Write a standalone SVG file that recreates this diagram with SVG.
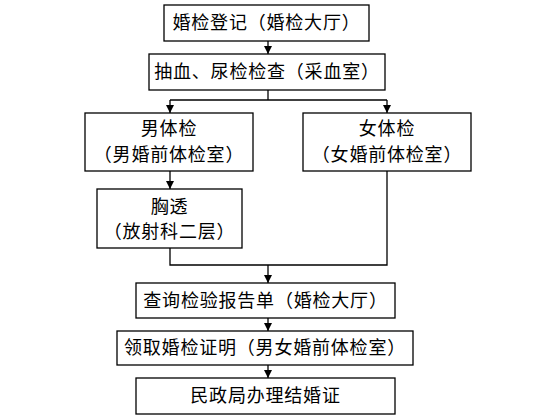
<svg xmlns="http://www.w3.org/2000/svg" width="536" height="420" viewBox="0 0 536 420">
<style>
.box{fill:#fff;stroke:#000;stroke-width:1.3}
.t{font-family:"Noto Sans CJK SC","Noto Sans CJK JP",sans-serif;font-size:18px;fill:#000;text-anchor:middle;letter-spacing:0.8px}
.c{fill:none;stroke:#000;stroke-width:1.3}
</style>
<defs>
<marker id="ah" viewBox="0 0 10 10" refX="10" refY="5" markerWidth="8" markerHeight="8" markerUnits="userSpaceOnUse" orient="auto">
<path d="M0,0 L10,5 L0,10 Z" fill="#000"/>
</marker>
</defs>
<rect width="536" height="420" fill="#fff"/>
<g id="connectors">
<line class="c" x1="268" y1="41" x2="268" y2="54" marker-end="url(#ah)"/>
<polyline class="c" points="268,90 268,100"/>
<polyline class="c" points="170,100 387,100"/>
<line class="c" x1="170" y1="100" x2="170" y2="113" marker-end="url(#ah)"/>
<line class="c" x1="387" y1="100" x2="387" y2="113" marker-end="url(#ah)"/>
<line class="c" x1="170" y1="171" x2="170" y2="189" marker-end="url(#ah)"/>
<polyline class="c" points="170,248 170,265 387,265 387,171"/>
<line class="c" x1="268" y1="265" x2="268" y2="283" marker-end="url(#ah)"/>
<line class="c" x1="268" y1="318" x2="268" y2="331" marker-end="url(#ah)"/>
<line class="c" x1="268" y1="365" x2="268" y2="378" marker-end="url(#ah)"/>
</g>
<g id="n1"><rect class="box" x="164" y="5" width="205" height="36"/><text class="t" x="266.5" y="29">婚检登记（婚检大厅）</text></g>
<g id="n2"><rect class="box" x="149" y="54" width="236" height="36"/><text class="t" x="267" y="78">抽血、尿检检查（采血室）</text></g>
<g id="n3"><rect class="box" x="85" y="113" width="168" height="58"/><text class="t" x="169" y="135">男体检</text><text class="t" x="169" y="161">（男婚前体检室）</text></g>
<g id="n4"><rect class="box" x="303" y="113" width="168" height="58"/><text class="t" x="387" y="135">女体检</text><text class="t" x="387" y="161">（女婚前体检室）</text></g>
<g id="n5"><rect class="box" x="97" y="189" width="145" height="59"/><text class="t" x="169.5" y="213">胸透</text><text class="t" x="169.5" y="238">（放射科二层）</text></g>
<g id="n6"><rect class="box" x="136" y="283" width="259" height="35"/><text class="t" x="265.5" y="307">查询检验报告单（婚检大厅）</text></g>
<g id="n7"><rect class="box" x="117" y="331" width="296" height="34"/><text class="t" x="265" y="354">领取婚检证明（男女婚前体检室）</text></g>
<g id="n8"><rect class="box" x="136" y="378" width="259" height="36"/><text class="t" x="265.5" y="402">民政局办理结婚证</text></g>
</svg>
